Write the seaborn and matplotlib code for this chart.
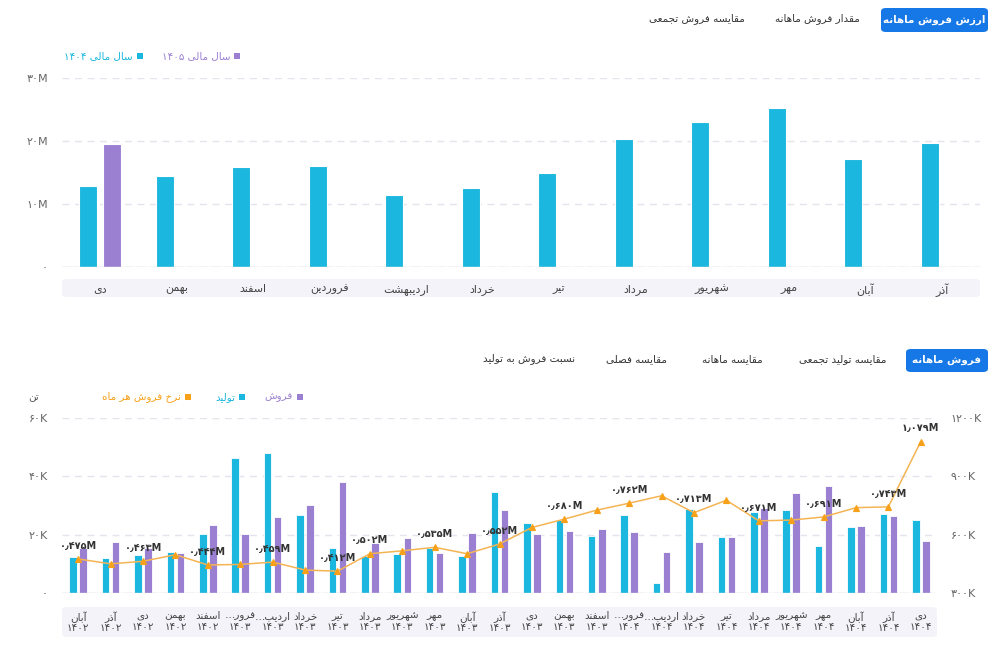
import numpy as np
import pandas as pd
import seaborn as sns
import matplotlib.pyplot as plt
from matplotlib.patches import FancyBboxPatch, Rectangle

# ---- data: top chart (monthly sales value, million) ----
top_months = ['دی', 'بهمن', 'اسفند', 'فروردین', 'اردیبهشت', 'خرداد',
              'تیر', 'مرداد', 'شهریور', 'مهر', 'آبان', 'آذر']
value_1404 = [12.9, 14.4, 15.9, 16.0, 11.5, 12.5, 14.9, 20.3, 23.0, 25.3, 17.1, 19.7]
value_1405 = [19.5] + [np.nan] * 11

# ---- data: bottom chart (tons / monthly sales rate) ----
months_b = ['آبان', 'آذر', 'دی', 'بهمن', 'اسفند', 'فرور…', 'اردیب…', 'خرداد', 'تیر',
            'مرداد', 'شهریور', 'مهر', 'آبان', 'آذر', 'دی', 'بهمن', 'اسفند', 'فرور…',
            'اردیب…', 'خرداد', 'تیر', 'مرداد', 'شهریور', 'مهر', 'آبان', 'آذر', 'دی']
years_b = ['1402'] * 5 + ['1403'] * 12 + ['1404'] * 10
production = [12.3, 11.9, 12.9, 14.1, 20.2, 46.4, 48.0, 26.7, 15.3, 12.6, 13.5, 15.6, 12.8,
              34.5, 24.0, 25.1, 19.6, 26.7, 3.6, 28.8, 19.1, 27.9, 28.3, 16.0, 22.5, 27.1, 25.2]
sales = [15.6, 17.6, 15.3, 13.7, 23.3, 20.2, 26.2, 30.2, 38.2, 17.1, 18.9, 13.7, 20.6,
         28.3, 20.3, 21.1, 21.8, 20.9, 14.2, 17.5, 19.1, 29.0, 34.3, 36.7, 23.1, 26.5, 17.8]
rate = [475, 450, 463, 497, 444, 447, 459, 418, 412, 502, 517, 535, 502, 552,
        637, 680, 726, 762, 800, 713, 777, 671, 675, 691, 739, 743, 1079]
labelled = [0, 2, 4, 6, 8, 9, 11, 13, 15, 17, 19, 21, 23, 25, 26]

CYAN = '#1BB7DE'
PURPLE = '#9B80D2'
ORANGE = '#F7A11A'
BLUE = '#1677E6'
TICK = '#666666'

# ---- minimal Persian shaping (matplotlib does no joining / RTL) ----
DUAL = {'ب': 0xFE8F, 'پ': 0xFB56, 'ت': 0xFE95, 'ث': 0xFE99, 'ج': 0xFE9D, 'چ': 0xFB7A,
        'ح': 0xFEA1, 'خ': 0xFEA5, 'س': 0xFEB1, 'ش': 0xFEB5, 'ص': 0xFEB9, 'ض': 0xFEBD,
        'ط': 0xFEC1, 'ظ': 0xFEC5, 'ع': 0xFEC9, 'غ': 0xFECD, 'ف': 0xFED1, 'ق': 0xFED5,
        'ک': 0xFB8E, 'گ': 0xFB92, 'ل': 0xFEDD, 'م': 0xFEE1, 'ن': 0xFEE5, 'ه': 0xFEE9,
        'ی': 0xFBFC}
RIGHT = {'ا': 0xFE8D, 'آ': 0xFE81, 'د': 0xFEA9, 'ذ': 0xFEAB, 'ر': 0xFEAD, 'ز': 0xFEAF,
         'ژ': 0xFB8A, 'و': 0xFEED}


def shape(word):
    out = []
    for i, c in enumerate(word):
        base = DUAL.get(c, RIGHT.get(c))
        if base is None:
            out.append(c)
            continue
        prev = word[i - 1] if i > 0 else ''
        nxt = word[i + 1] if i < len(word) - 1 else ''
        jp = prev in DUAL
        jn = c in DUAL and (nxt in DUAL or nxt in RIGHT)
        k = 3 if (jp and jn) else 1 if jp else 2 if jn else 0
        out.append(chr(base + k))
    return ''.join(out)


def digits(s):
    return s.translate(str.maketrans('0123456789.', '۰۱۲۳۴۵۶۷۸۹٫'))


def fa(text):
    lines = []
    for line in text.split('\n'):
        words = [shape(w)[::-1] if any(ch in DUAL or ch in RIGHT for ch in w) else digits(w)
                 for w in line.split(' ')]
        lines.append(' '.join(words[::-1]))
    return '\n'.join(lines)


sns.set_theme(style='white')
plt.rcParams['font.family'] = ['DejaVu Sans']

W, H = 994, 660
fig = plt.figure(figsize=(W / 100, H / 100), dpi=100)


def fx(px):
    return px / W


def fy(py):
    return 1 - py / H


def box(x0, y0, x1, y1, color, r=5):
    fig.patches.append(FancyBboxPatch((fx(x0), fy(y1)), fx(x1 - x0), (y1 - y0) / H,
                                      boxstyle=f'round,pad=0,rounding_size={r / W}',
                                      transform=fig.transFigure, facecolor=color,
                                      edgecolor='none', zorder=-5))


def square(x, y, color, s=6):
    fig.patches.append(Rectangle((fx(x - s / 2), fy(y + s / 2)), s / W, s / H,
                                 transform=fig.transFigure, facecolor=color,
                                 edgecolor='none'))


def style_axis(ax):
    ax.set_facecolor('none')
    for sp in ax.spines.values():
        sp.set_visible(False)
    ax.set_xlabel('')
    ax.set_ylabel('')
    ax.yaxis.grid(True, linestyle=(0, (5, 4)), color='#e4e4ef', linewidth=1)
    ax.xaxis.grid(False)
    ax.set_axisbelow(True)
    ax.tick_params(axis='both', length=0, labelsize=8, colors=TICK)


# ================= top section =================
box(881, 8, 988, 32, BLUE)
fig.text(fx(934), fy(20), fa('ارزش فروش ماهانه'), color='white', fontsize=7.5,
         fontweight='bold', ha='center', va='center')
fig.text(fx(860), fy(19), fa('مقدار فروش ماهانه'), color='#333333', fontsize=7.5,
         ha='right', va='center')
fig.text(fx(745), fy(19), fa('مقایسه فروش تجمعی'), color='#333333', fontsize=7.5,
         ha='right', va='center')

square(140, 56, CYAN)
fig.text(fx(133), fy(56), fa('سال مالی 1404'), color=CYAN, fontsize=7.5, ha='right', va='center')
square(237, 56, PURPLE)
fig.text(fx(230), fy(56), fa('سال مالی 1405'), color=PURPLE, fontsize=7.5, ha='right', va='center')

box(62, 279, 980, 297, '#f4f3fa')

top_df = pd.DataFrame({
    'month': top_months * 2,
    'year': ['1404'] * 12 + ['1405'] * 12,
    'value': list(np.array(value_1404) * 1e6) + list(np.array(value_1405) * 1e6),
})

ax1 = fig.add_axes([fx(62), fy(267), fx(980 - 62), (267 - 78) / H])
sns.barplot(data=top_df, x='month', y='value', hue='year', hue_order=['1404', '1405'],
            palette=[CYAN, PURPLE], saturation=1, width=0.62, gap=0.25, errorbar=None,
            edgecolor='white', linewidth=0.8, legend=False, ax=ax1)
style_axis(ax1)
ax1.set_ylim(0, 30e6)
ax1.set_yticks([0, 10e6, 20e6, 30e6])
ax1.set_yticklabels([digits('0'), digits('10M'), digits('20M'), digits('30M')])
ax1.set_xticks(range(len(top_months)))
ax1.set_xticklabels([fa(m) for m in top_months], color='#444444')
ax1.tick_params(axis='x', pad=12)
ax1.tick_params(axis='y', pad=10)
ax1.axhline(0, color='#dcdce8', linewidth=1)

# ================= bottom section =================
box(906, 349, 988, 372, BLUE)
fig.text(fx(947), fy(360), fa('فروش ماهانه'), color='white', fontsize=7.5,
         fontweight='bold', ha='center', va='center')
for txt, xr in [('مقایسه تولید تجمعی', 886), ('مقایسه ماهانه', 763),
                ('مقایسه فصلی', 667), ('نسبت فروش به تولید', 575)]:
    fig.text(fx(xr), fy(359), fa(txt), color='#333333', fontsize=7.5, ha='right', va='center')

square(300, 397, PURPLE)
fig.text(fx(293), fy(397), fa('فروش'), color=PURPLE, fontsize=7.5, ha='right', va='center')
square(242, 397, CYAN)
fig.text(fx(235), fy(397), fa('تولید'), color=CYAN, fontsize=7.5, ha='right', va='center')
square(188, 397, ORANGE)
fig.text(fx(181), fy(397), fa('نرخ فروش هر ماه'), color=ORANGE, fontsize=7.5,
         ha='right', va='center')
fig.text(fx(39), fy(397), fa('تن'), color='#555555', fontsize=7.5, ha='right', va='center')

box(62, 607, 937, 637, '#f4f3fa')

periods = [f'{m}\n{y}' for m, y in zip(months_b, years_b)]
bot_df = pd.DataFrame({
    'period': periods * 2,
    'kind': ['prod'] * 27 + ['sale'] * 27,
    'tons': list(np.array(production) * 1e3) + list(np.array(sales) * 1e3),
})
rate_df = pd.DataFrame({'period': periods, 'rate': np.array(rate) * 1e3})

ax2 = fig.add_axes([fx(62), fy(593), fx(937 - 62), (593 - 418) / H])
sns.barplot(data=bot_df, x='period', y='tons', hue='kind', hue_order=['prod', 'sale'],
            palette=[CYAN, PURPLE], saturation=1, width=0.62, gap=0.25, errorbar=None,
            edgecolor='white', linewidth=0.6, legend=False, ax=ax2)
style_axis(ax2)
ax2.set_ylim(0, 60e3)
ax2.set_yticks([0, 20e3, 40e3, 60e3])
ax2.set_yticklabels([digits('0'), digits('20K'), digits('40K'), digits('60K')])
ax2.set_xticks(range(len(periods)))
ax2.set_xticklabels([fa(p) for p in periods], color='#444444', linespacing=1.1, fontsize=7.5)
ax2.tick_params(axis='x', pad=13)
ax2.tick_params(axis='y', pad=10)
ax2.axhline(0, color='#dcdce8', linewidth=1)

ax3 = ax2.twinx()
sns.pointplot(data=rate_df, x='period', y='rate', color=ORANGE, markers='^',
              linestyles='-', linewidth=1.1, markersize=5, errorbar=None, ax=ax3)
ln = ax3.lines[0]
ln.set_color('#F5B454')
ln.set_markerfacecolor(ORANGE)
ln.set_markeredgecolor(ORANGE)
ax3.set_facecolor('none')
for sp in ax3.spines.values():
    sp.set_visible(False)
ax3.set_xlabel('')
ax3.set_ylabel('')
ax3.grid(False)
ax3.set_ylim(300e3, 1200e3)
ax3.set_yticks([300e3, 600e3, 900e3, 1200e3])
ax3.set_yticklabels([digits('300K'), digits('600K'), digits('900K'), digits('1200K')])
ax3.tick_params(axis='y', length=0, labelsize=8, colors=TICK, pad=10)
ax3.tick_params(axis='x', length=0, labelbottom=False)
ax3.set_xlim(ax2.get_xlim())
for i in labelled:
    ax3.annotate(digits(f'{rate[i] / 1000:.3f}M'), (i, rate[i] * 1e3), xytext=(0, 6),
                 textcoords='offset points', ha='center', va='bottom', fontsize=7,
                 fontweight='bold', color='#333333')

plt.savefig('out.png', dpi=100)
